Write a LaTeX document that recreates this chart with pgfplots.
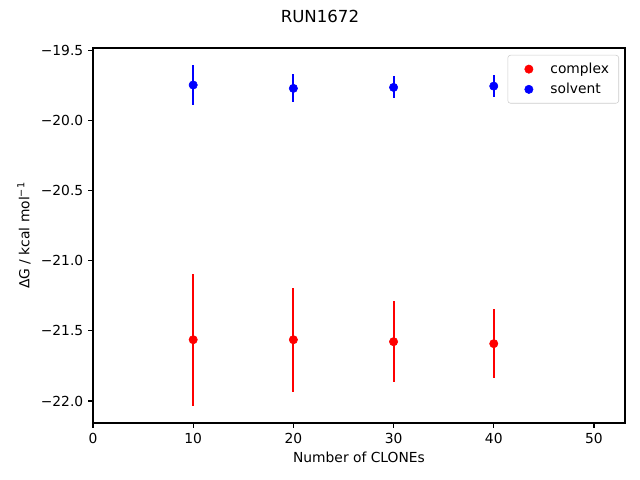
\documentclass[border=0pt]{standalone}
\usepackage{fontspec}
\setmainfont{DejaVu Sans}
\usepackage{pgfplots}
\pgfplotsset{compat=1.18}
\usetikzlibrary{calc}
\definecolor{mred}{rgb}{1,0,0}
\definecolor{mblue}{rgb}{0,0,1}
\begin{document}
\begin{tikzpicture}
\begin{axis}[name=ax, scale only axis, width=383.04bp, height=270bp,
  xmin=0, xmax=53.1, ymin=-22.157, ymax=-19.482,
  xtick={0,10,20,30,40,50}, xticklabels={0,10,20,30,40,50},
  ytick={-22,-21.5,-21,-20.5,-20,-19.5},
  yticklabels={−22.0,−21.5,−21.0,−20.5,−20.0,−19.5},
  tick align=outside, xtick pos=bottom, ytick pos=left,
  major tick length=3.5bp,
  tick style={black, line width=0.8bp},
  axis line style={line width=0.8bp},
  ticklabel style={font=\fontsize{10}{12}\selectfont},
  legend style={at={(1,1)}, anchor=north east, xshift=-4.3bp, yshift=-5bp,
    draw=black!20, rounded corners=2bp, font=\fontsize{10}{12}\selectfont,
    inner xsep=5bp, inner ysep=3.5bp, row sep=1.5bp,
    /tikz/every odd column/.append style={column sep=3.3bp}},
  legend cell align=left,
  legend image code/.code={\path (0,0) (20bp,0); \draw[#1] plot coordinates {(10bp,0)};},
]
\addlegendimage{only marks, mark=*, mark size=3bp, mred, mark options={draw=mred, fill=mred}}
\addlegendentry{complex}
\addlegendimage{only marks, mark=*, mark size=3bp, mblue, mark options={draw=mblue, fill=mblue}}
\addlegendentry{solvent}
\addplot[forget plot, only marks, mark=*, mark size=3bp, color=mred,
  error bars/.cd, y dir=both, y explicit, error mark=none,
  error bar style={line width=1.5bp, mred}]
  coordinates {
  (10,-21.563) +- (0,0.471)
  (20,-21.563) +- (0,0.371)
  (30,-21.577) +- (0,0.290)
  (40,-21.591) +- (0,0.246)
  };
\addplot[forget plot, only marks, mark=*, mark size=3bp, color=mblue,
  error bars/.cd, y dir=both, y explicit, error mark=none,
  error bar style={line width=1.5bp, mblue}]
  coordinates {
  (10,-19.746) +- (0,0.140)
  (20,-19.770) +- (0,0.099)
  (30,-19.763) +- (0,0.078)
  (40,-19.754) +- (0,0.081)
  };
\end{axis}
\node[font=\fontsize{12}{14}\selectfont] at ($(ax.north west)+(163.4bp,23bp)$) {RUN1672};
\node[font=\fontsize{10}{12}\selectfont] at ($(ax.south)+(0,-24.5bp)$) {Number of CLONEs};
\node[font=\fontsize{10}{12}\selectfont, rotate=90] at ($(ax.west)+(-49.7bp,0)$) {ΔG / kcal mol\textsuperscript{−1}};
\pgfresetboundingbox
\path ($(ax.south west)+(-66.96bp,-41.04bp)$) rectangle ($(ax.north east)+(10.8bp,34.56bp)$);
\end{tikzpicture}
\end{document}
